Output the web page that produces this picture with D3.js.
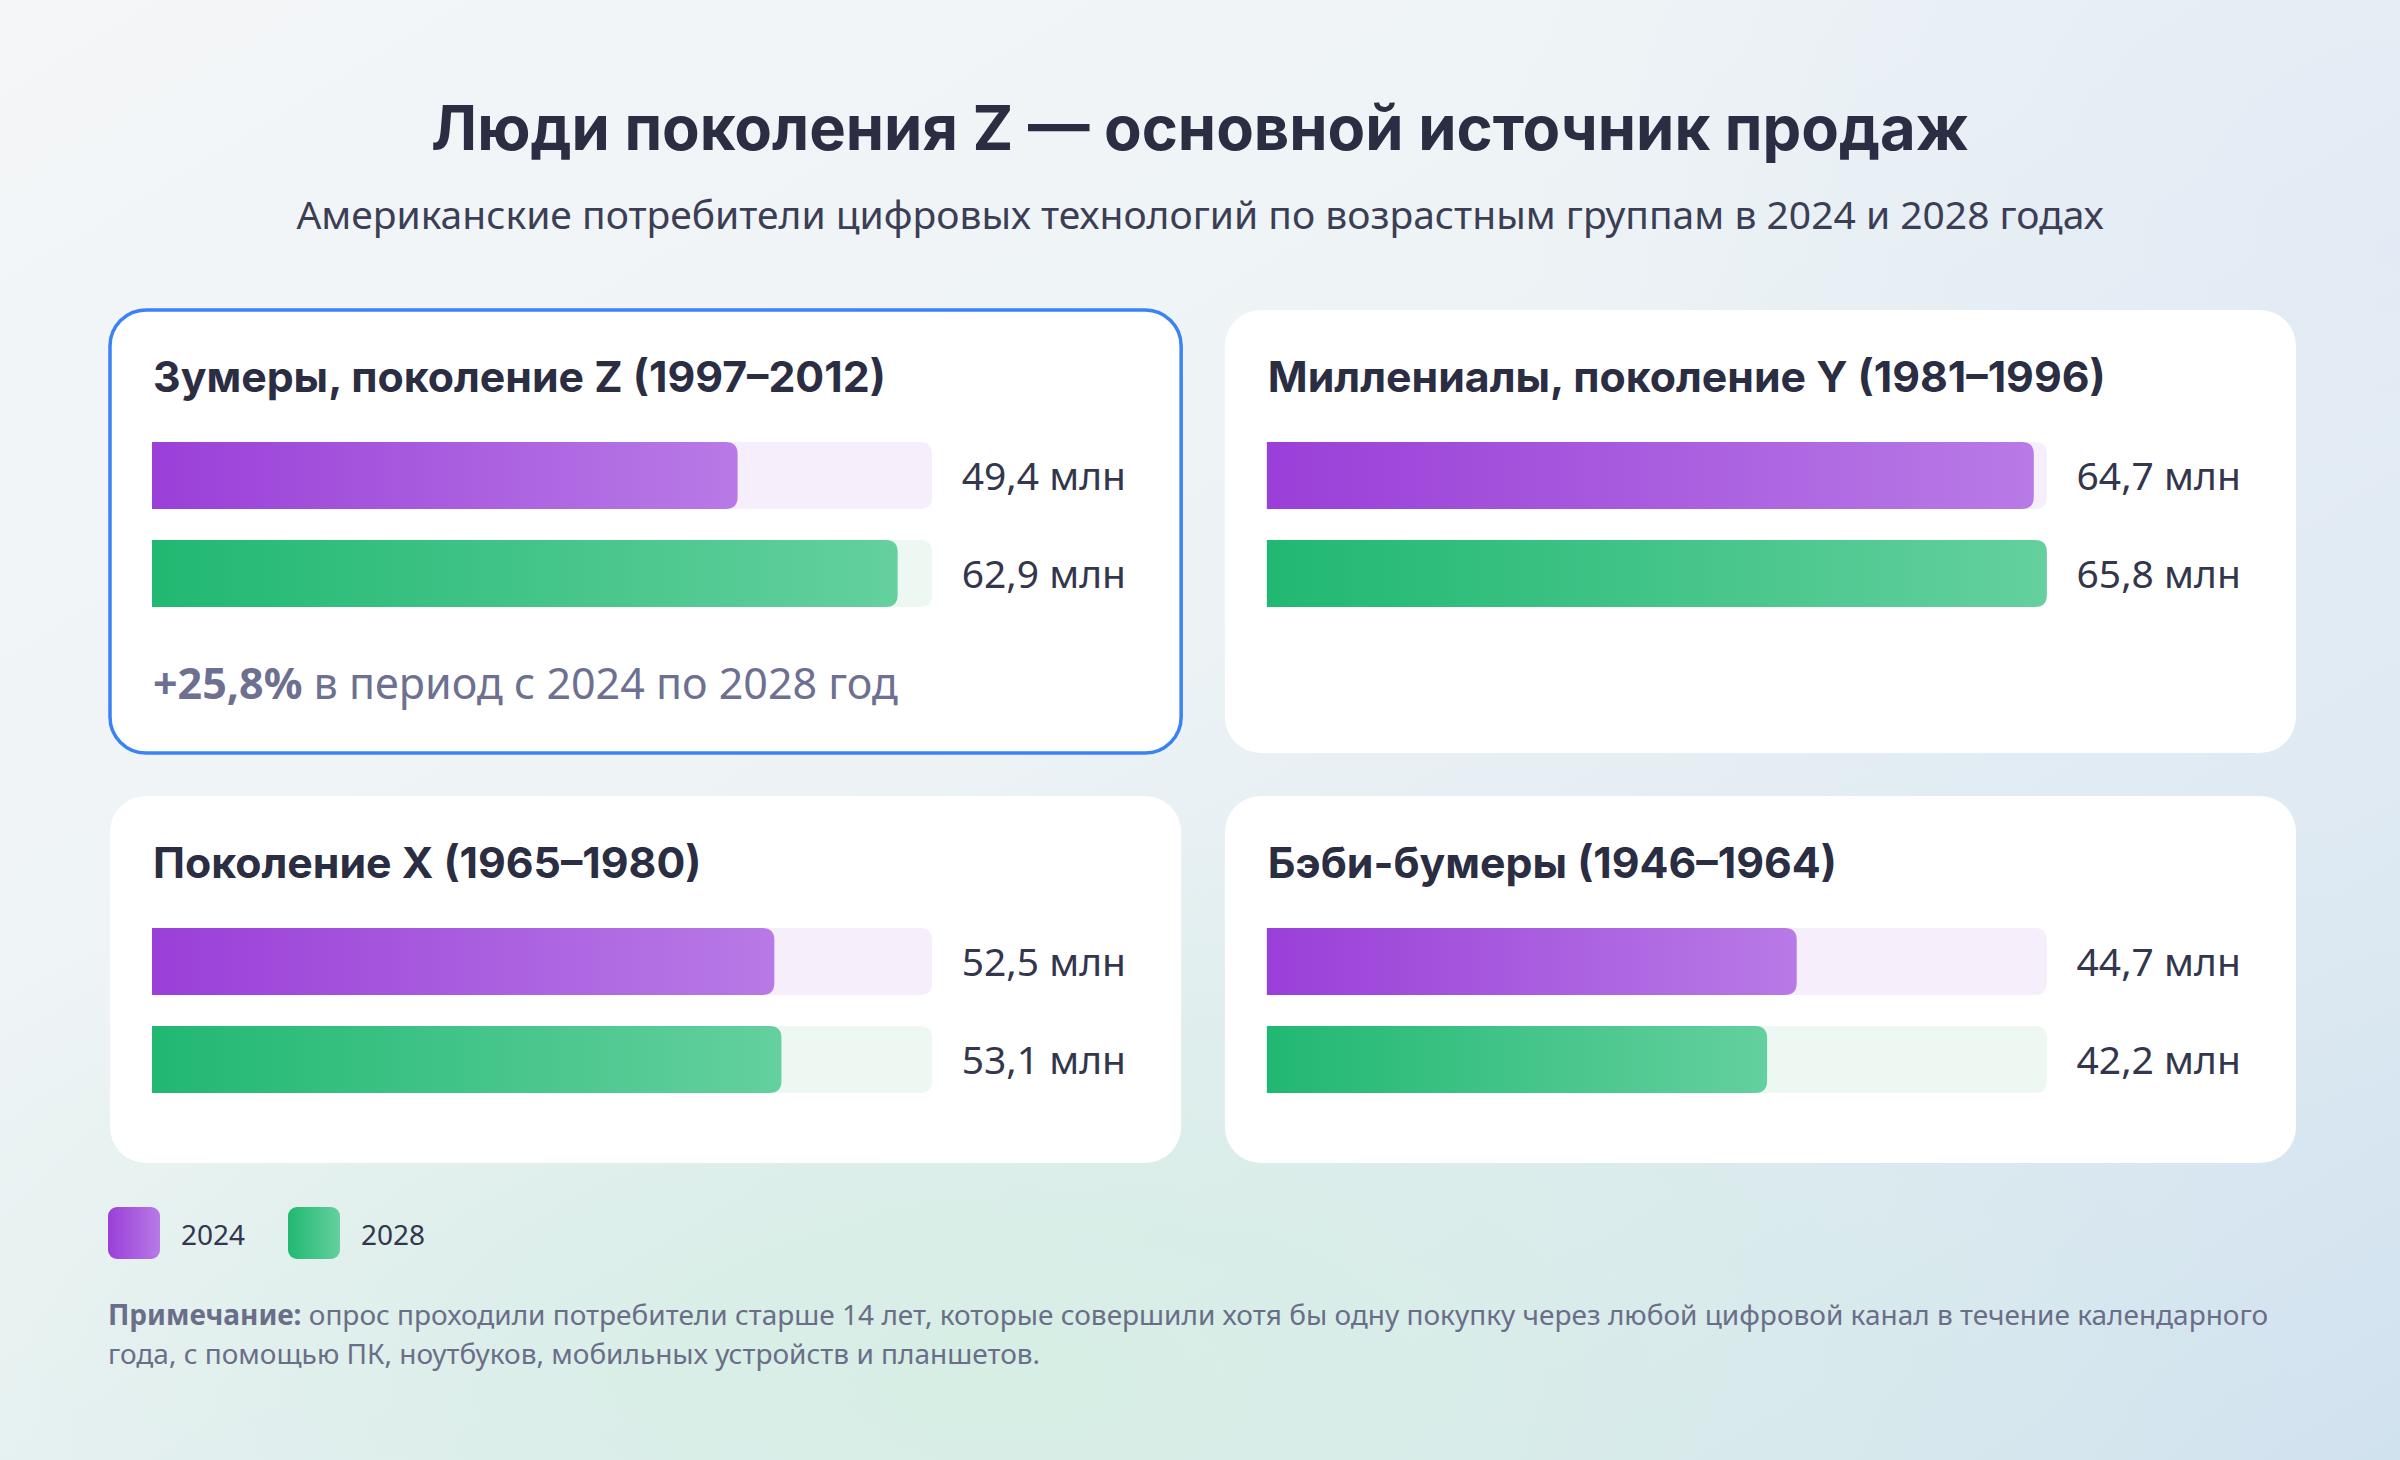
<!DOCTYPE html>
<html lang="ru">
<head>
<meta charset="utf-8">
<script src="https://cdn.jsdelivr.net/npm/d3@7"></script>
<style>
  html, body { margin: 0; padding: 0; width: 2400px; height: 1460px; overflow: hidden; }
  svg { display: block; }
</style>
</head>
<body>
<svg id="chart" width="2400" height="1460"></svg>
<script>
// ---------- DATA ----------
const title = "Люди поколения Z — основной источник продаж";
const subtitle = "Американские потребители цифровых технологий по возрастным группам в 2024 и 2028 годах";
const groups = [
  "Зумеры, поколение Z (1997–2012)",
  "Миллениалы, поколение Y (1981–1996)",
  "Поколение X (1965–1980)",
  "Бэби-бумеры (1946–1964)"
];
const years = ["2024", "2028"];
const values2024 = [49.4, 64.7, 52.5, 44.7];
const values2028 = [62.9, 65.8, 53.1, 42.2];
const unit = "млн";
const growthBold = "+25,8%";
const growthText = " в период с 2024 по 2028 год";
const noteBold = "Примечание:";
const noteLines = [
  " опрос проходили потребители старше 14 лет, которые совершили хотя бы одну покупку через любой цифровой канал в течение календарного",
  "года, с помощью ПК, ноутбуков, мобильных устройств и планшетов."
];

// ---------- SETUP ----------
const svg = d3.select("#chart");
const defs = svg.append("defs");
const headFont = "Inter, 'Noto Sans', sans-serif";
const bodyFont = "'Noto Sans', 'Open Sans', sans-serif";
const dark = "#2b2d42";
const grey = "#6d7090";

// background gradients
const bg = defs.append("linearGradient").attr("id", "bg")
  .attr("x1", 0).attr("y1", 0).attr("x2", 1).attr("y2", 1);
bg.append("stop").attr("offset", 0).attr("stop-color", "#f4f6f8");
bg.append("stop").attr("offset", 0.45).attr("stop-color", "#edf3f5");
bg.append("stop").attr("offset", 1).attr("stop-color", "#d1e2ef");
const rg = defs.append("radialGradient").attr("id", "bgGreen")
  .attr("gradientUnits", "userSpaceOnUse")
  .attr("cx", 1000).attr("cy", 1380).attr("r", 1000)
  .attr("gradientTransform", "translate(1000,1380) scale(1.3,0.6) translate(-1000,-1380)");
rg.append("stop").attr("offset", 0).attr("stop-color", "#d6eee4").attr("stop-opacity", 1);
rg.append("stop").attr("offset", 1).attr("stop-color", "#d6eee4").attr("stop-opacity", 0);
const rb = defs.append("radialGradient").attr("id", "bgBlue")
  .attr("gradientUnits", "userSpaceOnUse")
  .attr("cx", 2400).attr("cy", 250).attr("r", 900);
rb.append("stop").attr("offset", 0).attr("stop-color", "#e2ebf5").attr("stop-opacity", 0.9);
rb.append("stop").attr("offset", 1).attr("stop-color", "#e2ebf5").attr("stop-opacity", 0);

svg.append("rect").attr("width", 2400).attr("height", 1460).attr("fill", "url(#bg)");
svg.append("rect").attr("width", 2400).attr("height", 1460).attr("fill", "url(#bgBlue)");
svg.append("rect").attr("width", 2400).attr("height", 1460).attr("fill", "url(#bgGreen)");

// bar gradients
function hGrad(id, c0, c1) {
  const g = defs.append("linearGradient").attr("id", id)
    .attr("x1", 0).attr("y1", 0).attr("x2", 1).attr("y2", 0);
  g.append("stop").attr("offset", 0).attr("stop-color", c0);
  g.append("stop").attr("offset", 1).attr("stop-color", c1);
}
hGrad("gPurple", "#9a3fd8", "#b87ae6");
hGrad("gGreen", "#21b872", "#64d09e");
const series = [
  { year: years[0], values: values2024, fill: "url(#gPurple)", track: "#f6effb" },
  { year: years[1], values: values2028, fill: "url(#gGreen)", track: "#edf8f2" }
];

// ---------- TITLES ----------
svg.append("text").attr("x", 1200).attr("y", 150).attr("text-anchor", "middle")
  .attr("font-family", headFont).attr("font-weight", 700).attr("font-size", 61.5)
  .attr("fill", dark).text(title);
svg.append("text").attr("x", 1200).attr("y", 229).attr("text-anchor", "middle")
  .attr("font-family", bodyFont).attr("font-size", 39)
  .attr("fill", "#3b3e55").text(subtitle);

// ---------- CARDS ----------
const cardX = d3.scaleBand().domain([0, 1]).range([110, 2296]).paddingInner(0.0392);
const cardRows = [{ y: 310, h: 443 }, { y: 796, h: 367 }];
const barLeft = 42, trackW = 780, barH = 67;
const x = d3.scaleLinear().domain([0, d3.max(values2024.concat(values2028))]).range([0, trackW]);
const barY = d3.scaleOrdinal().domain(years).range([132, 230]);
const ru = d3.formatLocale({ decimal: ",", thousands: " ", grouping: [3], currency: ["", ""] });
const fmt = ru.format(".1f");

function rightRounded(x0, y0, w, h, r) {
  r = Math.min(r, w);
  return `M${x0},${y0}H${x0 + w - r}Q${x0 + w},${y0} ${x0 + w},${y0 + r}V${y0 + h - r}Q${x0 + w},${y0 + h} ${x0 + w - r},${y0 + h}H${x0}Z`;
}

groups.forEach((name, i) => {
  const cx = cardX(i % 2), row = cardRows[Math.floor(i / 2)];
  const g = svg.append("g").attr("transform", `translate(${cx},${row.y})`);
  const card = g.append("rect").attr("width", cardX.bandwidth()).attr("height", row.h)
    .attr("rx", 36).attr("fill", "#ffffff");
  if (i === 0) card.attr("stroke", "#3b82f6").attr("stroke-width", 3.5);

  g.append("text").attr("x", 43).attr("y", 82)
    .attr("font-family", headFont).attr("font-weight", 700).attr("font-size", 42.8)
    .attr("fill", dark).text(name);

  series.forEach(s => {
    const y0 = barY(s.year);
    g.append("path").attr("d", rightRounded(barLeft, y0, trackW, barH, 12)).attr("fill", s.track);
    g.append("path").attr("d", rightRounded(barLeft, y0, x(s.values[i]), barH, 12)).attr("fill", s.fill);
    g.append("text").attr("x", 1016).attr("y", y0 + barH / 2 + 14)
      .attr("text-anchor", "end")
      .attr("font-family", bodyFont).attr("font-size", 39).attr("fill", "#33364d")
      .text(`${fmt(s.values[i])} ${unit}`);
  });

  if (i === 0) {
    const t = g.append("text").attr("x", 43).attr("y", 389)
      .attr("font-family", bodyFont).attr("font-size", 43).attr("fill", grey);
    t.append("tspan").attr("font-weight", 700).text(growthBold);
    t.append("tspan").text(growthText);
  }
});

// ---------- LEGEND ----------
const legX = d3.scaleOrdinal().domain(years).range([108, 288]);
const leg = svg.append("g");
series.forEach(s => {
  leg.append("rect").attr("x", legX(s.year)).attr("y", 1207).attr("width", 52).attr("height", 52)
    .attr("rx", 9).attr("fill", s.fill);
  leg.append("text").attr("x", legX(s.year) + 73).attr("y", 1245)
    .attr("font-family", bodyFont).attr("font-size", 28).attr("fill", "#33364d").text(s.year);
});

// ---------- NOTE ----------
noteLines.forEach((line, k) => {
  const t = svg.append("text").attr("x", 108).attr("y", 1325 + k * 39)
    .attr("font-family", bodyFont).attr("font-size", 28).attr("fill", "#6b6e88");
  if (k === 0) t.append("tspan").attr("font-weight", 700).text(noteBold);
  t.append("tspan").text(line);
});
</script>
</body>
</html>
